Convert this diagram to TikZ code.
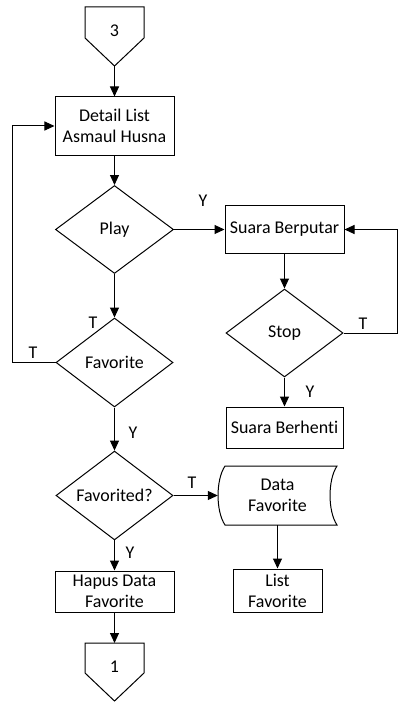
\documentclass[tikz,border=0pt]{standalone}
\usepackage{fontspec}
\setmainfont{Carlito}[Ligatures={NoCommon}]
\usetikzlibrary{shapes.geometric,arrows.meta,calc}

\begin{document}
\begin{tikzpicture}[x=1bp,y=-1bp,
  every node/.style={font=\fontsize{18}{21}\selectfont},
  box/.style={draw, line width=1bp, rectangle, inner sep=0pt, align=center},
  dec/.style={draw, line width=1bp, diamond, inner sep=0pt, minimum width=118bp, minimum height=88bp},
  arr/.style={line width=1bp, -{Triangle[length=10bp,width=9bp]}},
  ln/.style={line width=1bp},
  lbl/.style={inner sep=0pt}]
\useasboundingbox (0,0) rectangle (398,702);

% off-page connector 3
\draw[ln] (85,7) -- (144,7) -- (144,38) -- (114.5,66) -- (85,38) -- cycle;
\node[lbl] (c3) at (114.5,31) {3};
\coordinate (c3tip) at (114.5,66);

\node[box, minimum width=119bp, minimum height=58bp] (detail) at (114.5,126) {Detail List\\Asmaul Husna};
\node[dec] (play) at (114.5,229.5) {Play};
\node[box, minimum width=119bp, minimum height=48bp] (berputar) at (284.5,229.5) {Suara Berputar};
\node[dec, minimum width=117bp] (stop) at (284.5,333) {Stop};
\node[box, minimum width=117bp, minimum height=41bp] (berhenti) at (284.5,427.5) {Suara Berhenti};
\node[dec, minimum width=117bp, minimum height=89bp] (favorite) at (114.5,362.5) {Favorite};
\node[dec, minimum width=117bp, minimum height=87bp] (favorited) at (114.5,495.5) {Favorited?};
\node[box, minimum width=119bp, minimum height=41bp] (hapus) at (114.5,591.5) {Hapus Data\\Favorite};

% stored data shape
\node[inner sep=0pt, minimum width=119bp, minimum height=59bp, align=center] (data) at (277.5,495.5) {Data\\Favorite};
\draw[ln] (225,466) -- (337,466) .. controls (327.7,480) and (327.7,511) .. (337,525)
  -- (225,525) .. controls (215.7,511) and (215.7,480) .. (225,466) -- cycle;
\node[box, minimum width=89bp, minimum height=43bp] (list) at (277.5,590.5) {List\\Favorite};

% off-page connector 1
\draw[ln] (85,643) -- (144,643) -- (144,673) -- (114.5,701) -- (85,673) -- cycle;
\node[lbl] (c1) at (114.5,667) {1};
\coordinate (c1top) at (114.5,643);

\coordinate (loopx) at (12,0);
\coordinate (rx) at (397.5,0);

% connectors
\draw[arr] (c3tip) -- (detail.north);
\draw[arr] (detail.south) -- (play.north);
\draw[arr] (play.east) -- (berputar.west);
\draw[arr] (play.south) -- (favorite.north);
\draw[arr] (berputar.south) -- (stop.north);
\draw[arr] (stop.south) -- (berhenti.north);
\draw[arr] (stop.east) -- (stop.east -| rx) |- (berputar.east);
\draw[arr] (favorite.west) -- (favorite.west -| loopx) |- (detail.west);
\draw[arr] (favorite.south) -- (favorited.north);
\draw[arr] (favorited.east) -- (data.west);
\draw[arr] (favorited.south) -- (hapus.north);
\draw[arr] (hapus.south) -- (c1top);
\draw[arr] (data.south) -- (list.north);

% labels
\node[lbl] (l1) at (203,201) {Y};
\node[lbl] (l2) at (363,324) {T};
\node[lbl] (l3) at (310,392) {Y};
\node[lbl] (l4) at (93,323) {T};
\node[lbl] (l5) at (33,353) {T};
\node[lbl] (l6) at (133,433) {Y};
\node[lbl] (l7) at (192,483) {T};
\node[lbl] (l8) at (130,553) {Y};
\end{tikzpicture}
\end{document}
